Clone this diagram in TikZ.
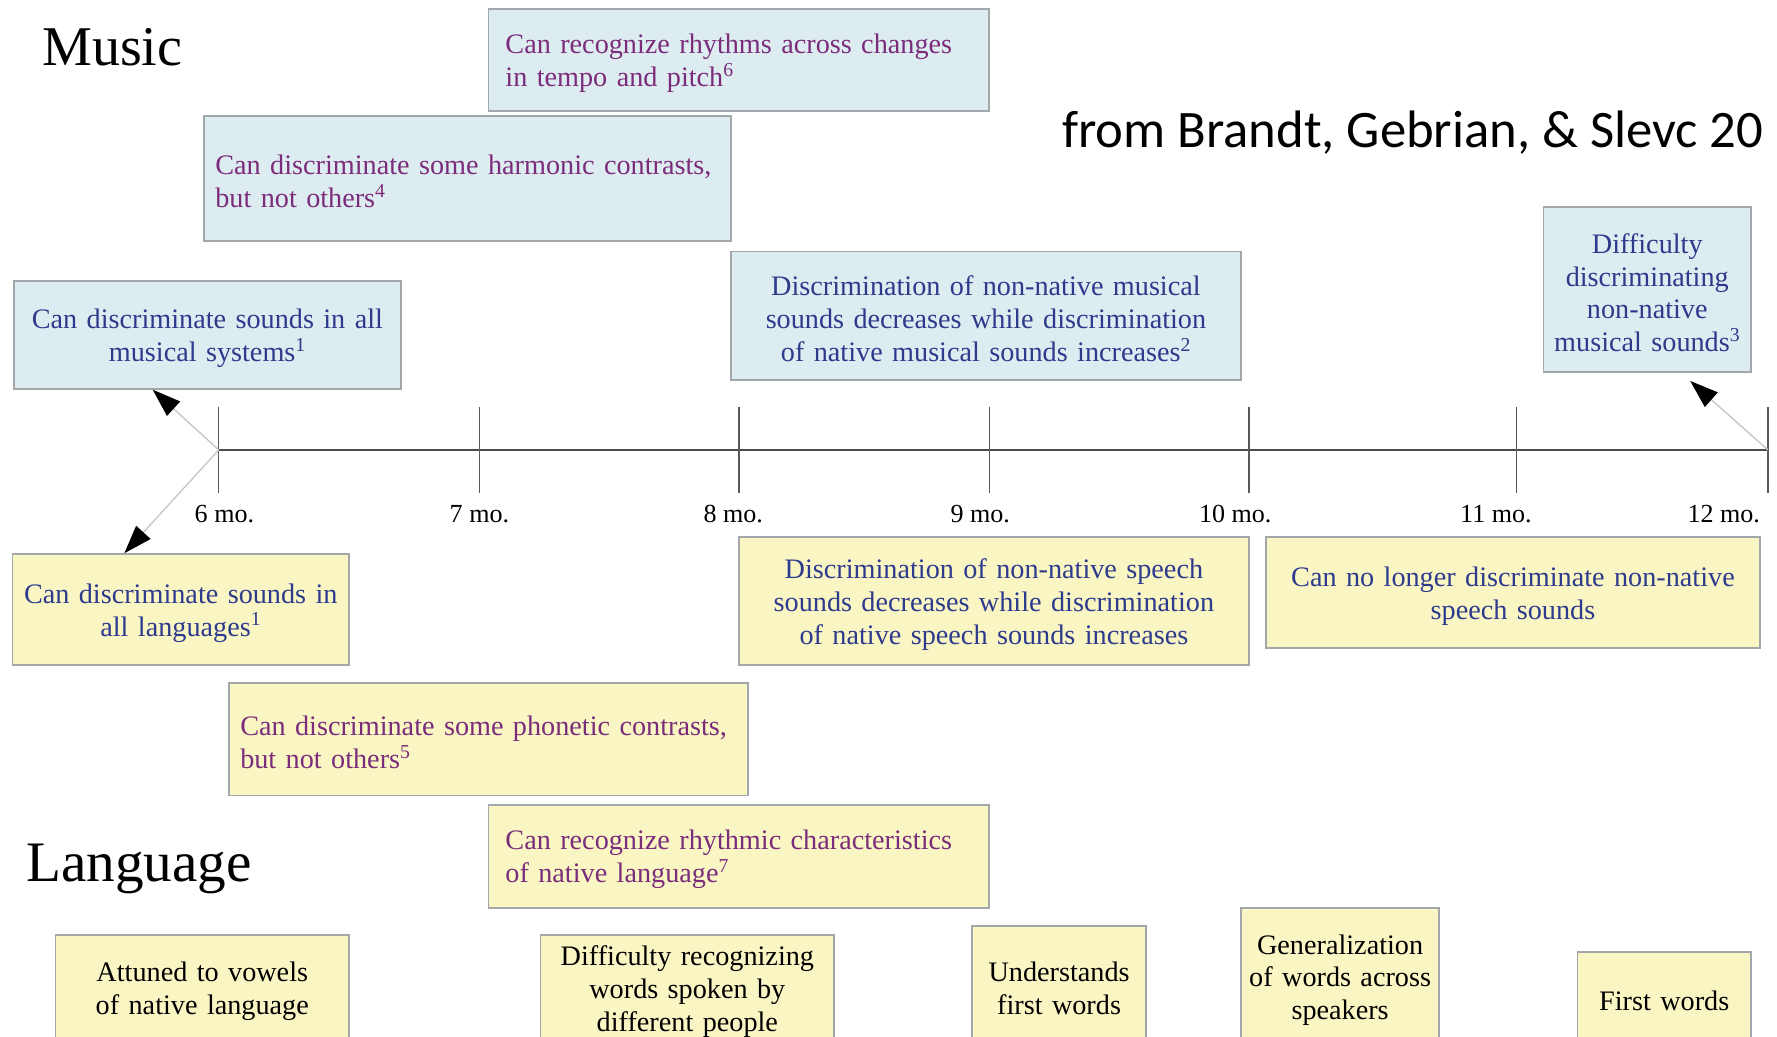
\documentclass[tikz,border=0pt]{standalone}
\usepackage{fontspec}
\setmainfont{Liberation Serif}
\newfontfamily\citefont{Carlito}
\usetikzlibrary{arrows.meta}
\definecolor{mfill}{HTML}{DDECF1}
\definecolor{lfill}{HTML}{F9F6C4}
\definecolor{bord}{HTML}{A3A7A9}
\definecolor{tblue}{HTML}{2E3A8C}
\definecolor{tpurp}{HTML}{7B2C7A}
\tikzset{
  box/.style={draw=bord, line width=1.6pt, inner ysep=0pt, text height=23pt,
    font=\fontsize{24.9}{29}\selectfont},
  mbox/.style={box, fill=mfill},
  lbox/.style={box, fill=lfill},
  ctext/.style={align=center},
  ltext/.style={align=left},
  axis/.style={draw=black!70, line width=2pt},
  tick/.style={draw=black!65, line width=1.3pt},
  ticklabel/.style={anchor=base, font=\fontsize{23}{27}\selectfont},
  arr/.style={draw=black!22, line width=1.2pt, -{Triangle[length=25pt,width=17pt,color=black]}},
  title/.style={anchor=base west, inner sep=0pt, font=\fontsize{49.5}{55}\selectfont}
}
\begin{document}
\begin{tikzpicture}[x=1pt, y=-1pt]
\clip (0,0) rectangle (1568,915);
\useasboundingbox (0,0) rectangle (1568,915);
\fill[white] (0,0) rectangle (1568,915);

% titles
\node[title] (music) at (37,58) {Music};
\node[title, font=\fontsize{50.5}{56}\selectfont] (language) at (23,778) {Language};
\node[anchor=base west, inner sep=0pt, font=\citefont\fontsize{46.5}{52}\selectfont] (cite) at (937,130) {from Brandt, Gebrian, \& Slevc 20};

% timeline
\coordinate (t6) at (193,397);
\coordinate (t7) at (423,397);
\coordinate (t8) at (652,397);
\coordinate (t9) at (873,397);
\coordinate (t10) at (1102,397);
\coordinate (t11) at (1338,397);
\coordinate (t12) at (1560,397);
\draw[axis] (t6) -- (t12);
\foreach \t in {t6,t7,t8,t9,t10,t11,t12}{
  \draw[tick] ([yshift=38pt]\t) -- ([yshift=-38pt]\t);
}
\node[ticklabel] (lab6) at (198,461) {6 mo.};
\node[ticklabel] (lab7) at (423,461) {7 mo.};
\node[ticklabel] (lab8) at (647,461) {8 mo.};
\node[ticklabel] (lab9) at (865,461) {9 mo.};
\node[ticklabel] (lab10) at (1090,461) {10 mo.};
\node[ticklabel] (lab11) at (1320,461) {11 mo.};
\node[ticklabel] (lab12) at (1521,461) {12 mo.};

% music boxes
\node[mbox, ltext, text=tpurp, minimum width=442pt, minimum height=90pt, text width=412pt, inner xsep=15pt] (m1) at (652,53)
  {Can recognize rhythms across changes\\in tempo and pitch\textsuperscript{6}};
\node[mbox, ltext, text=tpurp, minimum width=465pt, minimum height=111pt, text width=445pt, inner xsep=10pt] (m2) at (412.5,157.5)
  {Can discriminate some harmonic contrasts,\\but not others\textsuperscript{4}};
\node[mbox, ctext, text=tblue, minimum width=342pt, minimum height=95pt, text width=330pt, inner xsep=6pt] (m3) at (183,295.5)
  {Can discriminate sounds in all\\musical systems\textsuperscript{1}};
\node[mbox, ctext, text=tblue, minimum width=450pt, minimum height=113pt, text width=438pt, inner xsep=6pt] (m4) at (870,278.5)
  {Discrimination of non-native musical\\sounds decreases while discrimination\\of native musical sounds increases\textsuperscript{2}};
\node[mbox, ctext, text=tblue, minimum width=183pt, minimum height=145pt, text width=175pt, inner xsep=4pt] (m5) at (1453.5,255.5)
  {Difficulty\\discriminating\\non-native\\musical sounds\textsuperscript{3}};

% language boxes
\node[lbox, ctext, text=tblue, minimum width=297pt, minimum height=98pt, text width=289pt, inner xsep=4pt] (l1) at (159.5,538)
  {Can discriminate sounds in\\all languages\textsuperscript{1}};
\node[lbox, ctext, text=tblue, minimum width=450pt, minimum height=113pt, text width=438pt, inner xsep=6pt] (l2) at (877,530.5)
  {Discrimination of non-native speech\\sounds decreases while discrimination\\of native speech sounds increases};
\node[lbox, ctext, text=tblue, minimum width=436pt, minimum height=98pt, text width=424pt, inner xsep=6pt] (l3) at (1335,523)
  {Can no longer discriminate non-native\\speech sounds};
\node[lbox, ltext, text=tpurp, minimum width=458pt, minimum height=99pt, text width=438pt, inner xsep=10pt] (l4) at (431,652.5)
  {Can discriminate some phonetic contrasts,\\but not others\textsuperscript{5}};
\node[lbox, ltext, text=tpurp, minimum width=442pt, minimum height=91pt, text width=412pt, inner xsep=15pt] (l5) at (652,755.5)
  {Can recognize rhythmic characteristics\\of native language\textsuperscript{7}};
\node[lbox, ctext, minimum width=259pt, minimum height=94pt, text width=251pt, inner xsep=4pt] (l6) at (178.5,872)
  {Attuned to vowels\\of native language};
\node[lbox, ctext, minimum width=259pt, minimum height=94pt, text width=251pt, inner xsep=4pt] (l7) at (606.5,872)
  {Difficulty recognizing\\words spoken by\\different people};
\node[lbox, ctext, minimum width=153pt, minimum height=104pt, text width=147pt, inner xsep=3pt] (l8) at (934.5,869)
  {Understands\\first words};
\node[lbox, ctext, minimum width=175pt, minimum height=122pt, text width=169pt, inner xsep=3pt] (l9) at (1182.5,862)
  {Generalization\\of words across\\speakers};
\node[lbox, ctext, minimum width=153pt, minimum height=80pt, text width=147pt, inner xsep=3pt] (l10) at (1468.5,880)
  {First words};

% arrows
\draw[arr] (t6) -- (m3.225);
\draw[arr] (t6) -- (l1.135);
\draw[arr, shorten >=11pt] (t12) -- (m5.292);
\end{tikzpicture}
\end{document}
